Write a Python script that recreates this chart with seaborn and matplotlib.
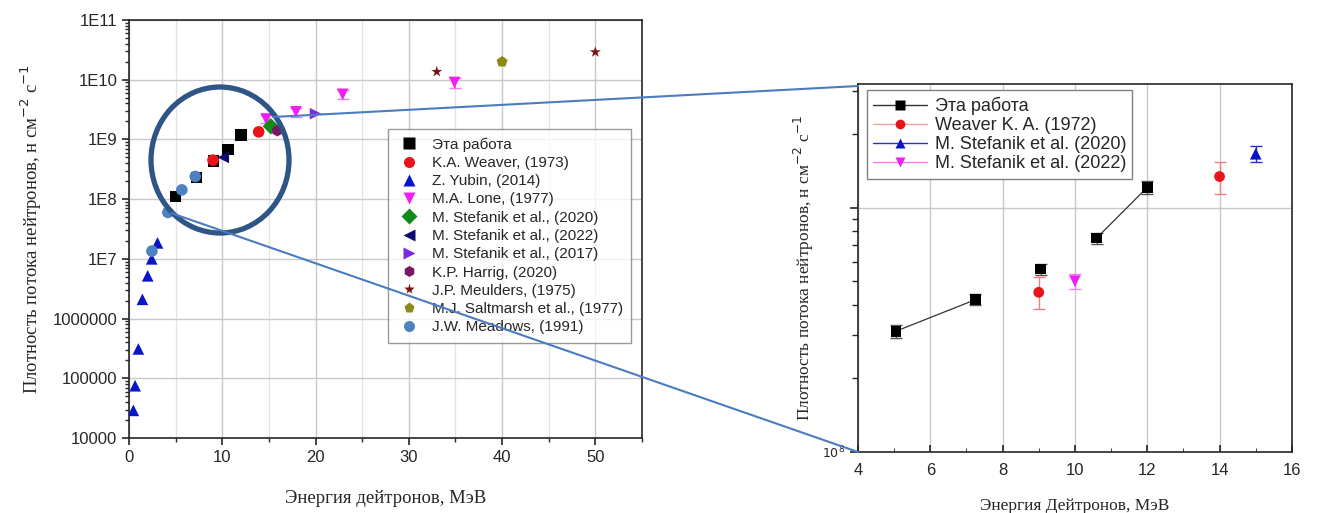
import matplotlib

matplotlib.use("Agg")
import matplotlib.pyplot as plt
import numpy as np
import pandas as pd
import seaborn as sns
from matplotlib.lines import Line2D
from matplotlib.patches import Ellipse
from matplotlib.ticker import LogLocator, MultipleLocator, NullFormatter

# ---- left panel: literature compilation -----------------------------------
this_work_e = [5.0, 7.25, 9.05, 10.6, 12.0]
this_work_f = [1.1e8, 2.3e8, 4.4e8, 6.8e8, 1.2e9]

weaver73_e = [9.0, 13.9]
weaver73_f = [4.5e8, 1.34e9]

yubin_e = [0.46, 0.65, 1.0, 1.43, 2.0, 2.43, 3.05]
yubin_f = [2.9e4, 7.5e4, 3.1e5, 2.1e6, 5.2e6, 1.0e7, 1.85e7]

lone_e = [14.7, 17.9, 22.9, 34.9]
lone_f = [2.2e9, 2.9e9, 5.7e9, 9.0e9]
lone_err = [0.35e9, 0.5e9, 1.0e9, 1.8e9]

stef2020_e = [15.2]
stef2020_f = [1.66e9]

stef2022_e = [10.1]
stef2022_f = [5.0e8]

stef2017_e = [20.0]
stef2017_f = [2.7e9]

harrig_e = [15.9]
harrig_f = [1.4e9]

meulders_e = [33.0, 50.0]
meulders_f = [1.36e10, 2.9e10]

saltmarsh_e = [40.0]
saltmarsh_f = [2.0e10]

meadows_e = [2.45, 4.16, 5.66, 7.1]
meadows_f = [1.35e7, 6.0e7, 1.43e8, 2.4e8]

sources = [
    "Эта работа",
    "K.A. Weaver, (1973)",
    "Z. Yubin, (2014)",
    "M.A. Lone, (1977)",
    "M. Stefanik et al., (2020)",
    "M. Stefanik et al., (2022)",
    "M. Stefanik et al., (2017)",
    "K.P. Harrig, (2020)",
    "J.P. Meulders, (1975)",
    "M.J. Saltmarsh et al., (1977)",
    "J.W. Meadows, (1991)",
]
series = [
    (this_work_e, this_work_f),
    (weaver73_e, weaver73_f),
    (yubin_e, yubin_f),
    (lone_e, lone_f),
    (stef2020_e, stef2020_f),
    (stef2022_e, stef2022_f),
    (stef2017_e, stef2017_f),
    (harrig_e, harrig_f),
    (meulders_e, meulders_f),
    (saltmarsh_e, saltmarsh_f),
    (meadows_e, meadows_f),
]
colors = ["#000000", "#e8141a", "#0a14c8", "#f020f0", "#138a1c", "#0c0c70",
          "#7a2be0", "#7a1868", "#7a1414", "#8c8a14", "#4f80c0"]
markers = ["s", "o", "^", "v", "D", "<", ">", "h", "*", "p", "o"]

# ---- right panel: zoom 4-16 MeV ------------------------------------------
z_work_e = [5.05, 7.25, 9.05, 10.6, 12.0]
z_work_f = [3.12e8, 4.2e8, 5.6e8, 7.5e8, 1.21e9]
z_work_err = [0.18e8, 0.22e8, 0.3e8, 0.4e8, 0.07e9]
z_work_seg = [0, 0, 1, 2, 2]   # which points are joined by a line

z_weaver_e = [9.0, 14.0]
z_weaver_f = [4.5e8, 1.34e9]
z_weaver_lo = [0.66e8, 0.2e9]
z_weaver_hi = [0.7e8, 0.2e9]

z_stef2020_e = [15.0]
z_stef2020_f = [1.66e9]
z_stef2020_err = [0.12e9]

z_stef2022_e = [10.0]
z_stef2022_f = [5.0e8]
z_stef2022_err = [0.35e8]

z_labels = ["Эта работа", "Weaver K. A. (1972)",
            "M. Stefanik et al. (2020)", "M. Stefanik et al. (2022)"]

left_yticks = [1e4, 1e5, 1e6, 1e7, 1e8, 1e9, 1e10, 1e11]
left_yticklabels = ["10000", "100000", "1000000", "1E7", "1E8", "1E9", "1E10", "1E11"]

sns.set_style("ticks")
plt.rcParams["font.family"] = ["Liberation Sans", "DejaVu Sans"]
serif = ["Liberation Serif", "DejaVu Serif"]

fig = plt.figure(figsize=(13.25, 5.13), dpi=100)
ax1 = fig.add_axes([0.0974, 0.1462, 0.3871, 0.8148])
ax2 = fig.add_axes([0.6475, 0.119, 0.3275, 0.717])

df = pd.concat(
    [pd.DataFrame({"energy": e, "flux": f, "source": s}) for s, (e, f) in zip(sources, series)],
    ignore_index=True,
)
ax1.errorbar(lone_e, lone_f, yerr=lone_err, fmt="none", ecolor="#f020f0",
             elinewidth=1.5, capsize=4, alpha=0.6, zorder=2)
sns.scatterplot(data=df, x="energy", y="flux", hue="source", style="source",
                hue_order=sources, style_order=sources,
                palette=dict(zip(sources, colors)), markers=dict(zip(sources, markers)),
                s=70, edgecolor="none", ax=ax1, zorder=3)
ax1.set_yscale("log")
ax1.set_xlim(0, 55)
ax1.set_ylim(1e4, 1e11)
ax1.set_yticks(left_yticks)
ax1.set_yticklabels(left_yticklabels)
ax1.yaxis.set_minor_locator(LogLocator(base=10, subs=np.arange(2, 10), numticks=20))
ax1.yaxis.set_minor_formatter(NullFormatter())
ax1.xaxis.set_major_locator(MultipleLocator(10))
ax1.xaxis.set_minor_locator(MultipleLocator(5))
ax1.grid(which="major", axis="both", color="#c8c8c8", lw=1.0)
ax1.grid(which="minor", axis="x", color="#e2e2e2", lw=0.9)
ax1.tick_params(labelsize=12, width=1.2, length=5)
ax1.tick_params(which="minor", length=3, width=1.0, left=True, bottom=True)
for sp in ax1.spines.values():
    sp.set_linewidth(1.2)
ax1.set_xlabel("Энергия дейтронов, МэВ", family=serif, fontsize=13.5, labelpad=18)
ax1.set_ylabel("Плотность потока нейтронов, н см$^{-2}$ с$^{-1}$", family=serif,
               fontsize=13.5, labelpad=6)
sns.move_legend(ax1, "upper left", bbox_to_anchor=(0.49, 0.758), title=None,
                frameon=True, fontsize=11, handletextpad=0.7, labelspacing=0.28,
                borderpad=0.55, markerscale=0.95, fancybox=False, edgecolor="#808080",
                handlelength=1.6)

# right panel
ax2.errorbar(z_work_e, z_work_f, yerr=z_work_err, fmt="none", ecolor="#555555",
             elinewidth=1, capsize=4, zorder=2)
seg_df = pd.DataFrame({"energy": z_work_e, "flux": z_work_f, "seg": z_work_seg})
sns.lineplot(data=seg_df, x="energy", y="flux", units="seg", estimator=None,
             color="#333333", lw=0.9, ax=ax2, zorder=2)
sns.scatterplot(x=z_work_e, y=z_work_f, marker="s", color="black", s=60,
                edgecolor="none", ax=ax2, zorder=3)
ax2.errorbar(z_weaver_e, z_weaver_f, yerr=[z_weaver_lo, z_weaver_hi], fmt="none",
             ecolor="#f08080", elinewidth=1, capsize=4, zorder=2)
sns.scatterplot(x=z_weaver_e, y=z_weaver_f, marker="o", color="#e8141a", s=60,
                edgecolor="none", ax=ax2, zorder=3)
ax2.errorbar(z_stef2020_e, z_stef2020_f, yerr=z_stef2020_err, fmt="none",
             ecolor="#3030c0", elinewidth=1, capsize=4, zorder=2)
sns.scatterplot(x=z_stef2020_e, y=z_stef2020_f, marker="^", color="#0a14c8", s=70,
                edgecolor="none", ax=ax2, zorder=3)
ax2.errorbar(z_stef2022_e, z_stef2022_f, yerr=z_stef2022_err, fmt="none",
             ecolor="#f080f0", elinewidth=1, capsize=4, zorder=2)
sns.scatterplot(x=z_stef2022_e, y=z_stef2022_f, marker="v", color="#f020f0", s=70,
                edgecolor="none", ax=ax2, zorder=3)
ax2.set_yscale("log")
ax2.set_xlim(4, 16)
ax2.set_ylim(1e8, 3.2e9)
ax2.set_yticks([1e8, 1e9])
ax2.set_yticklabels(["$10^8$", ""])
ax2.yaxis.set_minor_locator(LogLocator(base=10, subs=np.arange(2, 10), numticks=20))
ax2.yaxis.set_minor_formatter(NullFormatter())
ax2.xaxis.set_major_locator(MultipleLocator(2))
ax2.xaxis.set_minor_locator(MultipleLocator(1))
ax2.grid(which="major", axis="both", color="#c8c8c8", lw=1.0)
ax2.tick_params(axis="x", direction="in", labelsize=12, width=1.2, length=5, pad=8)
ax2.tick_params(axis="x", which="minor", direction="in", length=3, bottom=True)
ax2.tick_params(axis="y", labelsize=9, width=1.2, length=6)
ax2.tick_params(axis="y", which="minor", length=4, width=1.0, left=True)
for sp in ax2.spines.values():
    sp.set_linewidth(1.2)
ax2.set_xlabel("Энергия Дейтронов, МэВ", family=serif, fontsize=12.5, labelpad=14)
ax2.set_ylabel("Плотность потока нейтронов, н см$^{-2}$ с$^{-1}$", family=serif,
               fontsize=12.5, labelpad=4)
z_handles = [
    Line2D([], [], color="#333333", lw=1, marker="s", ms=7, mec="none", mfc="black"),
    Line2D([], [], color="#f4a0a0", lw=1, marker="o", ms=7, mec="none", mfc="#e8141a"),
    Line2D([], [], color="#3030c0", lw=1, marker="^", ms=7, mec="none", mfc="#0a14c8"),
    Line2D([], [], color="#f080f0", lw=1, marker="v", ms=7, mec="none", mfc="#f020f0"),
]
ax2.legend(z_handles, z_labels, loc="upper left", bbox_to_anchor=(0.0, 1.008),
           fontsize=13, frameon=True, fancybox=False, edgecolor="#808080",
           labelspacing=0.12, handlelength=3.0, borderpad=0.35, framealpha=1,
           handletextpad=0.4)

# zoom circle and connecting lines, in figure pixels
W, H = 1325.0, 513.0
fig.add_artist(Ellipse((220 / W, 1 - 160 / H), 138 / W, 146 / H, fill=False,
                       edgecolor="#2f5587", lw=3.8, transform=fig.transFigure))
fig.add_artist(Line2D([273 / W, 858 / W], [1 - 117 / H, 1 - 86 / H], color="#4a7cc0",
                      lw=1.5, transform=fig.transFigure))
fig.add_artist(Line2D([171 / W, 858 / W], [1 - 213 / H, 1 - 452 / H], color="#4a7cc0",
                      lw=1.5, transform=fig.transFigure))

fig.savefig("out.png", dpi=100)
